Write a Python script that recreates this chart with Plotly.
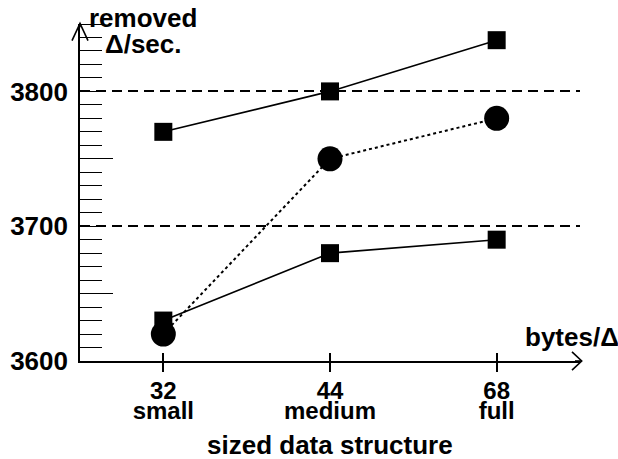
import plotly.graph_objects as go

categories = ["32", "44", "68"]
sublabels = ["small", "medium", "full"]
series_top = [3770, 3800, 3838]
series_low = [3630, 3680, 3690]
series_circ = [3620, 3750, 3780]
y_labels = [3600, 3700, 3800]
y_long_ticks = [3650, 3750]

FAM = "Liberation Sans, Arial, sans-serif"
FONT = dict(family=FAM, size=26, color="black", weight="bold")
XFONT = dict(family=FAM, size=24, color="black", weight="bold")

fig = go.Figure()
fig.add_trace(go.Scatter(x=categories, y=series_circ, mode="lines+markers",
                         line=dict(color="black", width=2, dash="3px,3px"),
                         marker=dict(symbol="circle", size=25, color="black", line=dict(width=0))))
fig.add_trace(go.Scatter(x=categories, y=series_top, mode="lines+markers",
                         line=dict(color="black", width=1.6),
                         marker=dict(symbol="square", size=18, color="black", line=dict(width=0))))
fig.add_trace(go.Scatter(x=categories, y=series_low, mode="lines+markers",
                         line=dict(color="black", width=1.6),
                         marker=dict(symbol="square", size=18, color="black", line=dict(width=0))))

fig.update_layout(
    width=618, height=459,
    margin=dict(l=80, r=38, t=23.5, b=97.5, autoexpand=False),
    paper_bgcolor="white", plot_bgcolor="white",
    showlegend=False,
    font=FONT,
    xaxis=dict(type="category", categoryorder="array", categoryarray=categories,
               range=[-0.5, 2.5], showline=True, linecolor="black", linewidth=1.6,
               ticks="outside", ticklen=9, tickwidth=1.6, tickcolor="black",
               tickvals=categories, ticktext=categories, showgrid=False, zeroline=False,
               tickfont=XFONT, automargin=False, ticklabelstandoff=-2),
    xaxis2=dict(type="category", categoryorder="array", categoryarray=categories,
                range=[-0.5, 2.5], overlaying="x", anchor="y", side="bottom",
                ticks="inside", ticklen=8, tickwidth=1.6, tickcolor="black",
                tickvals=categories, ticktext=sublabels, showticklabels=True,
                ticklabelstandoff=33, tickfont=XFONT,
                showgrid=False, showline=False, automargin=False),
    yaxis=dict(range=[3600, 3850], showline=True, linecolor="black", linewidth=1.6,
               tickvals=y_labels, ticktext=[str(v) for v in y_labels], ticks="",
               showgrid=True, gridcolor="black", gridwidth=1.5, griddash="10px,6px",
               zeroline=False, tickfont=FONT, automargin=False, ticklabelstandoff=5,
               minor=dict(ticks="inside", ticklen=22, dtick=10, tick0=3600,
                          tickcolor="black", tickwidth=1, showgrid=False)),
    yaxis2=dict(range=[3600, 3850], overlaying="y", anchor="x", side="left",
                tickvals=y_long_ticks, ticks="inside", ticklen=33, tickwidth=1,
                tickcolor="black", showticklabels=False, showgrid=False,
                showline=False, zeroline=False, automargin=False),
)
fig.add_trace(go.Scatter(x=categories, y=series_top, xaxis="x2", yaxis="y2",
                         mode="markers", marker=dict(opacity=0), hoverinfo="skip"))

# axis arrowheads
fig.add_shape(type="path", xref="paper", yref="paper",
              path="M 0.984 0.027 L 1.0034 0 L 0.984 -0.027",
              line=dict(color="black", width=1.6))
fig.add_shape(type="path", xref="paper", yref="paper",
              path="M -0.016 0.9506 L 0 1.0015 L 0.016 0.9506",
              line=dict(color="black", width=1.6))
fig.add_shape(type="line", xref="paper", yref="paper", x0=0, x1=0, y0=0.99, y1=1.0015,
              line=dict(color="black", width=1.6))
fig.add_shape(type="line", xref="paper", yref="paper", x0=0.99, x1=1.0034, y0=0, y1=0,
              line=dict(color="black", width=1.6))

fig.add_annotation(text="removed", xref="paper", yref="paper", x=0.125, y=1.019,
                   showarrow=False, xanchor="center", yanchor="middle", font=FONT)
fig.add_annotation(text="Δ/sec.", xref="paper", yref="paper", x=0.126, y=0.942,
                   showarrow=False, xanchor="center", yanchor="middle", font=FONT)
fig.add_annotation(text="bytes/Δ", xref="paper", yref="paper", x=0.984, y=0.072,
                   showarrow=False, xanchor="center", yanchor="middle", font=FONT)
fig.add_annotation(text="sized data structure", xref="paper", yref="paper", x=0.5, y=-0.249,
                   showarrow=False, xanchor="center", yanchor="middle", font=FONT)

fig.write_html("out.html", config={"displayModeBar": False},
               post_script="document.body.style.margin='0';")
